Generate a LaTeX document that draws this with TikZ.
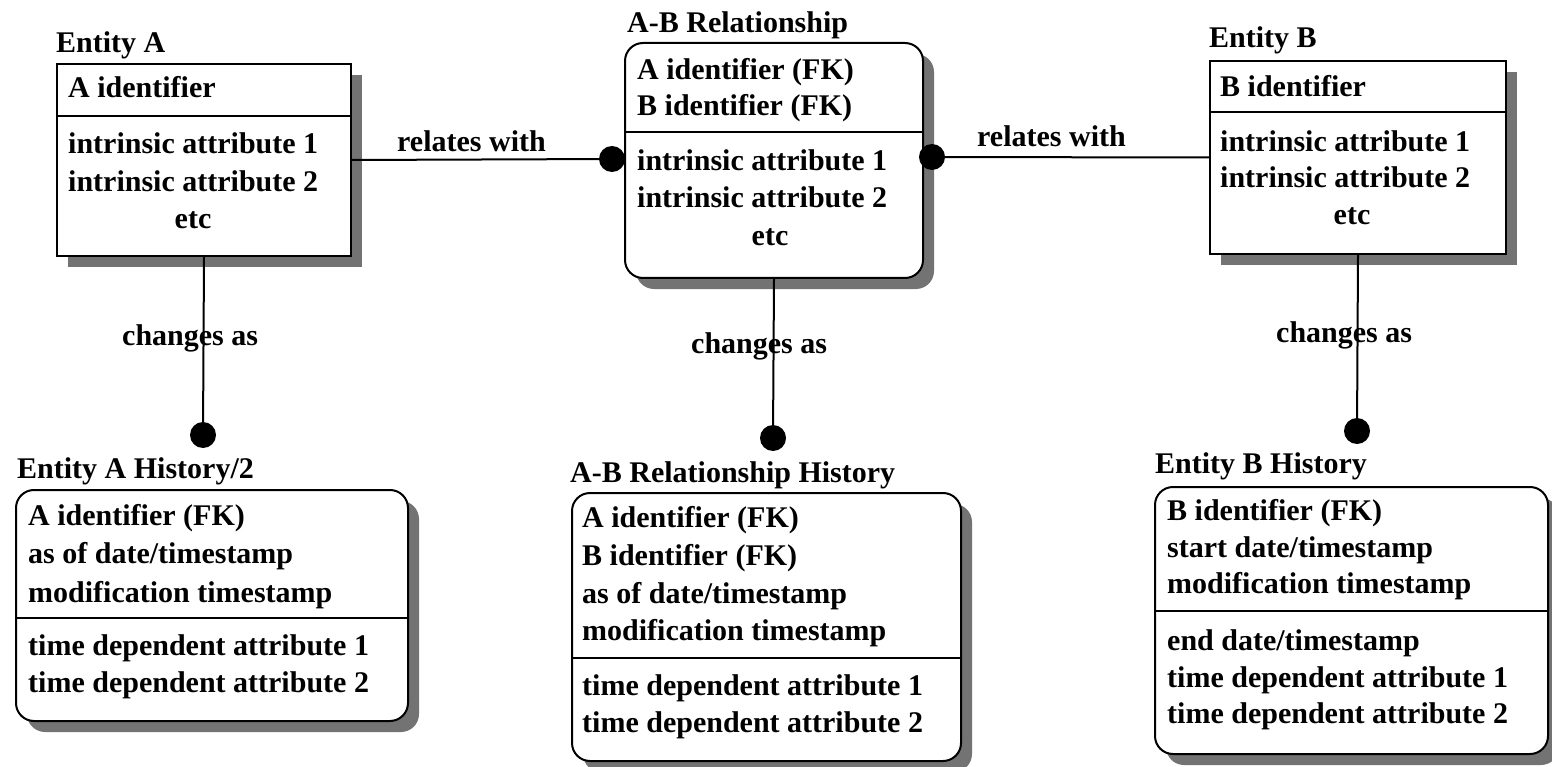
\documentclass[tikz,border=0pt]{standalone}
\usepackage{fontspec}
\setmainfont{Liberation Serif}
\usetikzlibrary{shadows}
\newcommand{\erfont}{\bfseries\fontsize{30}{36}\selectfont}
\tikzset{
  ent/.style={draw, line width=2pt, fill=white, inner sep=0pt, anchor=north west,
    drop shadow={shadow xshift=11pt, shadow yshift=-11pt, fill=black!55, opacity=1}},
  hist/.style={ent, rounded corners=18pt},
  lbl/.style={inner sep=0pt, anchor=base west, font=\erfont},
  ctr/.style={lbl, anchor=base},
  dot/.style={circle, fill=black, inner sep=0pt, minimum size=26pt},
  link/.style={line width=2pt},
}
\begin{document}
\begin{tikzpicture}[x=1pt,y=-1pt]
\useasboundingbox[fill=white] (0,0) rectangle (1552,767);

% ---- entity boxes ----
\node[ent,  minimum width=294pt, minimum height=192pt] (ea) at (56,63) {};
\node[hist, minimum width=298pt, minimum height=235pt] (rel) at (624,42) {};
\node[ent,  minimum width=296pt, minimum height=193pt] (eb) at (1209,60) {};
\node[hist, minimum width=392pt, minimum height=231pt] (ha) at (15,489) {};
\node[hist, minimum width=389pt, minimum height=268pt] (hr) at (571,492) {};
\node[hist, minimum width=393pt, minimum height=267pt] (hb) at (1154,486) {};

% key / attribute dividers
\draw[link] ([yshift=-53pt]ea.north west)  -- ([yshift=-53pt]ea.north east);
\draw[link] ([yshift=-90pt]rel.north west) -- ([yshift=-90pt]rel.north east);
\draw[link] ([yshift=-52pt]eb.north west)  -- ([yshift=-52pt]eb.north east);
\draw[link] ([yshift=-129pt]ha.north west) -- ([yshift=-129pt]ha.north east);
\draw[link] ([yshift=-166pt]hr.north west) -- ([yshift=-166pt]hr.north east);
\draw[link] ([yshift=-125pt]hb.north west) -- ([yshift=-125pt]hb.north east);

% ---- relationship ends ----
\node[dot] (dL) at (612,159) {};
\node[dot] (dR) at (932,157) {};
\node[dot] (dA) at (203,435) {};
\node[dot] (dM) at (773,438) {};
\node[dot] (dB) at (1357,431) {};

\draw[link] (ea.east) -- (dL.center);
\draw[link] (dR.center) -- (eb.west);
\draw[link] (ea.south) -- (dA.center);
\draw[link] (rel.south) -- (dM.center);
\draw[link] (eb.south) -- (dB.center);

% ---- connector labels ----
\node[lbl] (l1) at (397,152) {relates with};
\node[lbl] (l2) at (977,147) {relates with};
\node[lbl] (l3) at (122,345) {changes as};
\node[lbl] (l4) at (691,353) {changes as};
\node[lbl] (l5) at (1276,342) {changes as};

% ---- Entity A ----
\node[lbl] (eaT) at (56,53) {Entity A};
\node[lbl] (ea1) at (68,98) {A identifier};
\node[lbl] (ea2) at (68,154) {intrinsic attribute 1};
\node[lbl] (ea3) at (68,192) {intrinsic attribute 2};
\node[ctr] (ea4) at (193,229) {etc};

% ---- A-B Relationship ----
\node[lbl] (relT) at (627,33) {A-B Relationship};
\node[lbl] (rel1) at (637,80) {A identifier (FK)};
\node[lbl] (rel2) at (637,116) {B identifier (FK)};
\node[lbl] (rel3) at (637,171) {intrinsic attribute 1};
\node[lbl] (rel4) at (637,208) {intrinsic attribute 2};
\node[ctr] (rel5) at (770,246) {etc};

% ---- Entity B ----
\node[lbl] (ebT) at (1209,48) {Entity B};
\node[lbl] (eb1) at (1220,97) {B identifier};
\node[lbl] (eb2) at (1220,152) {intrinsic attribute 1};
\node[lbl] (eb3) at (1220,188) {intrinsic attribute 2};
\node[ctr] (eb4) at (1352,225) {etc};

% ---- Entity A History ----
\node[lbl] (haT) at (17,478) {Entity A History/2};
\node[lbl] (ha1) at (28,525) {A identifier (FK)};
\node[lbl] (ha2) at (28,563) {as of date/timestamp};
\node[lbl] (ha3) at (28,602) {modification timestamp};
\node[lbl] (ha4) at (28,655) {time dependent attribute 1};
\node[lbl] (ha5) at (28,692) {time dependent attribute 2};

% ---- A-B Relationship History ----
\node[lbl] (hrT) at (570,482) {A-B Relationship History};
\node[lbl] (hr1) at (582,527) {A identifier (FK)};
\node[lbl] (hr2) at (582,565) {B identifier (FK)};
\node[lbl] (hr3) at (582,603) {as of date/timestamp};
\node[lbl] (hr4) at (582,640) {modification timestamp};
\node[lbl] (hr5) at (582,695) {time dependent attribute 1};
\node[lbl] (hr6) at (582,732) {time dependent attribute 2};

% ---- Entity B History ----
\node[lbl] (hbT) at (1155,473) {Entity B History};
\node[lbl] (hb1) at (1167,520) {B identifier (FK)};
\node[lbl] (hb2) at (1167,557) {start date/timestamp};
\node[lbl] (hb3) at (1167,593) {modification timestamp};
\node[lbl] (hb4) at (1167,650) {end date/timestamp};
\node[lbl] (hb5) at (1167,687) {time dependent attribute 1};
\node[lbl] (hb6) at (1167,723) {time dependent attribute 2};
\end{tikzpicture}
\end{document}
